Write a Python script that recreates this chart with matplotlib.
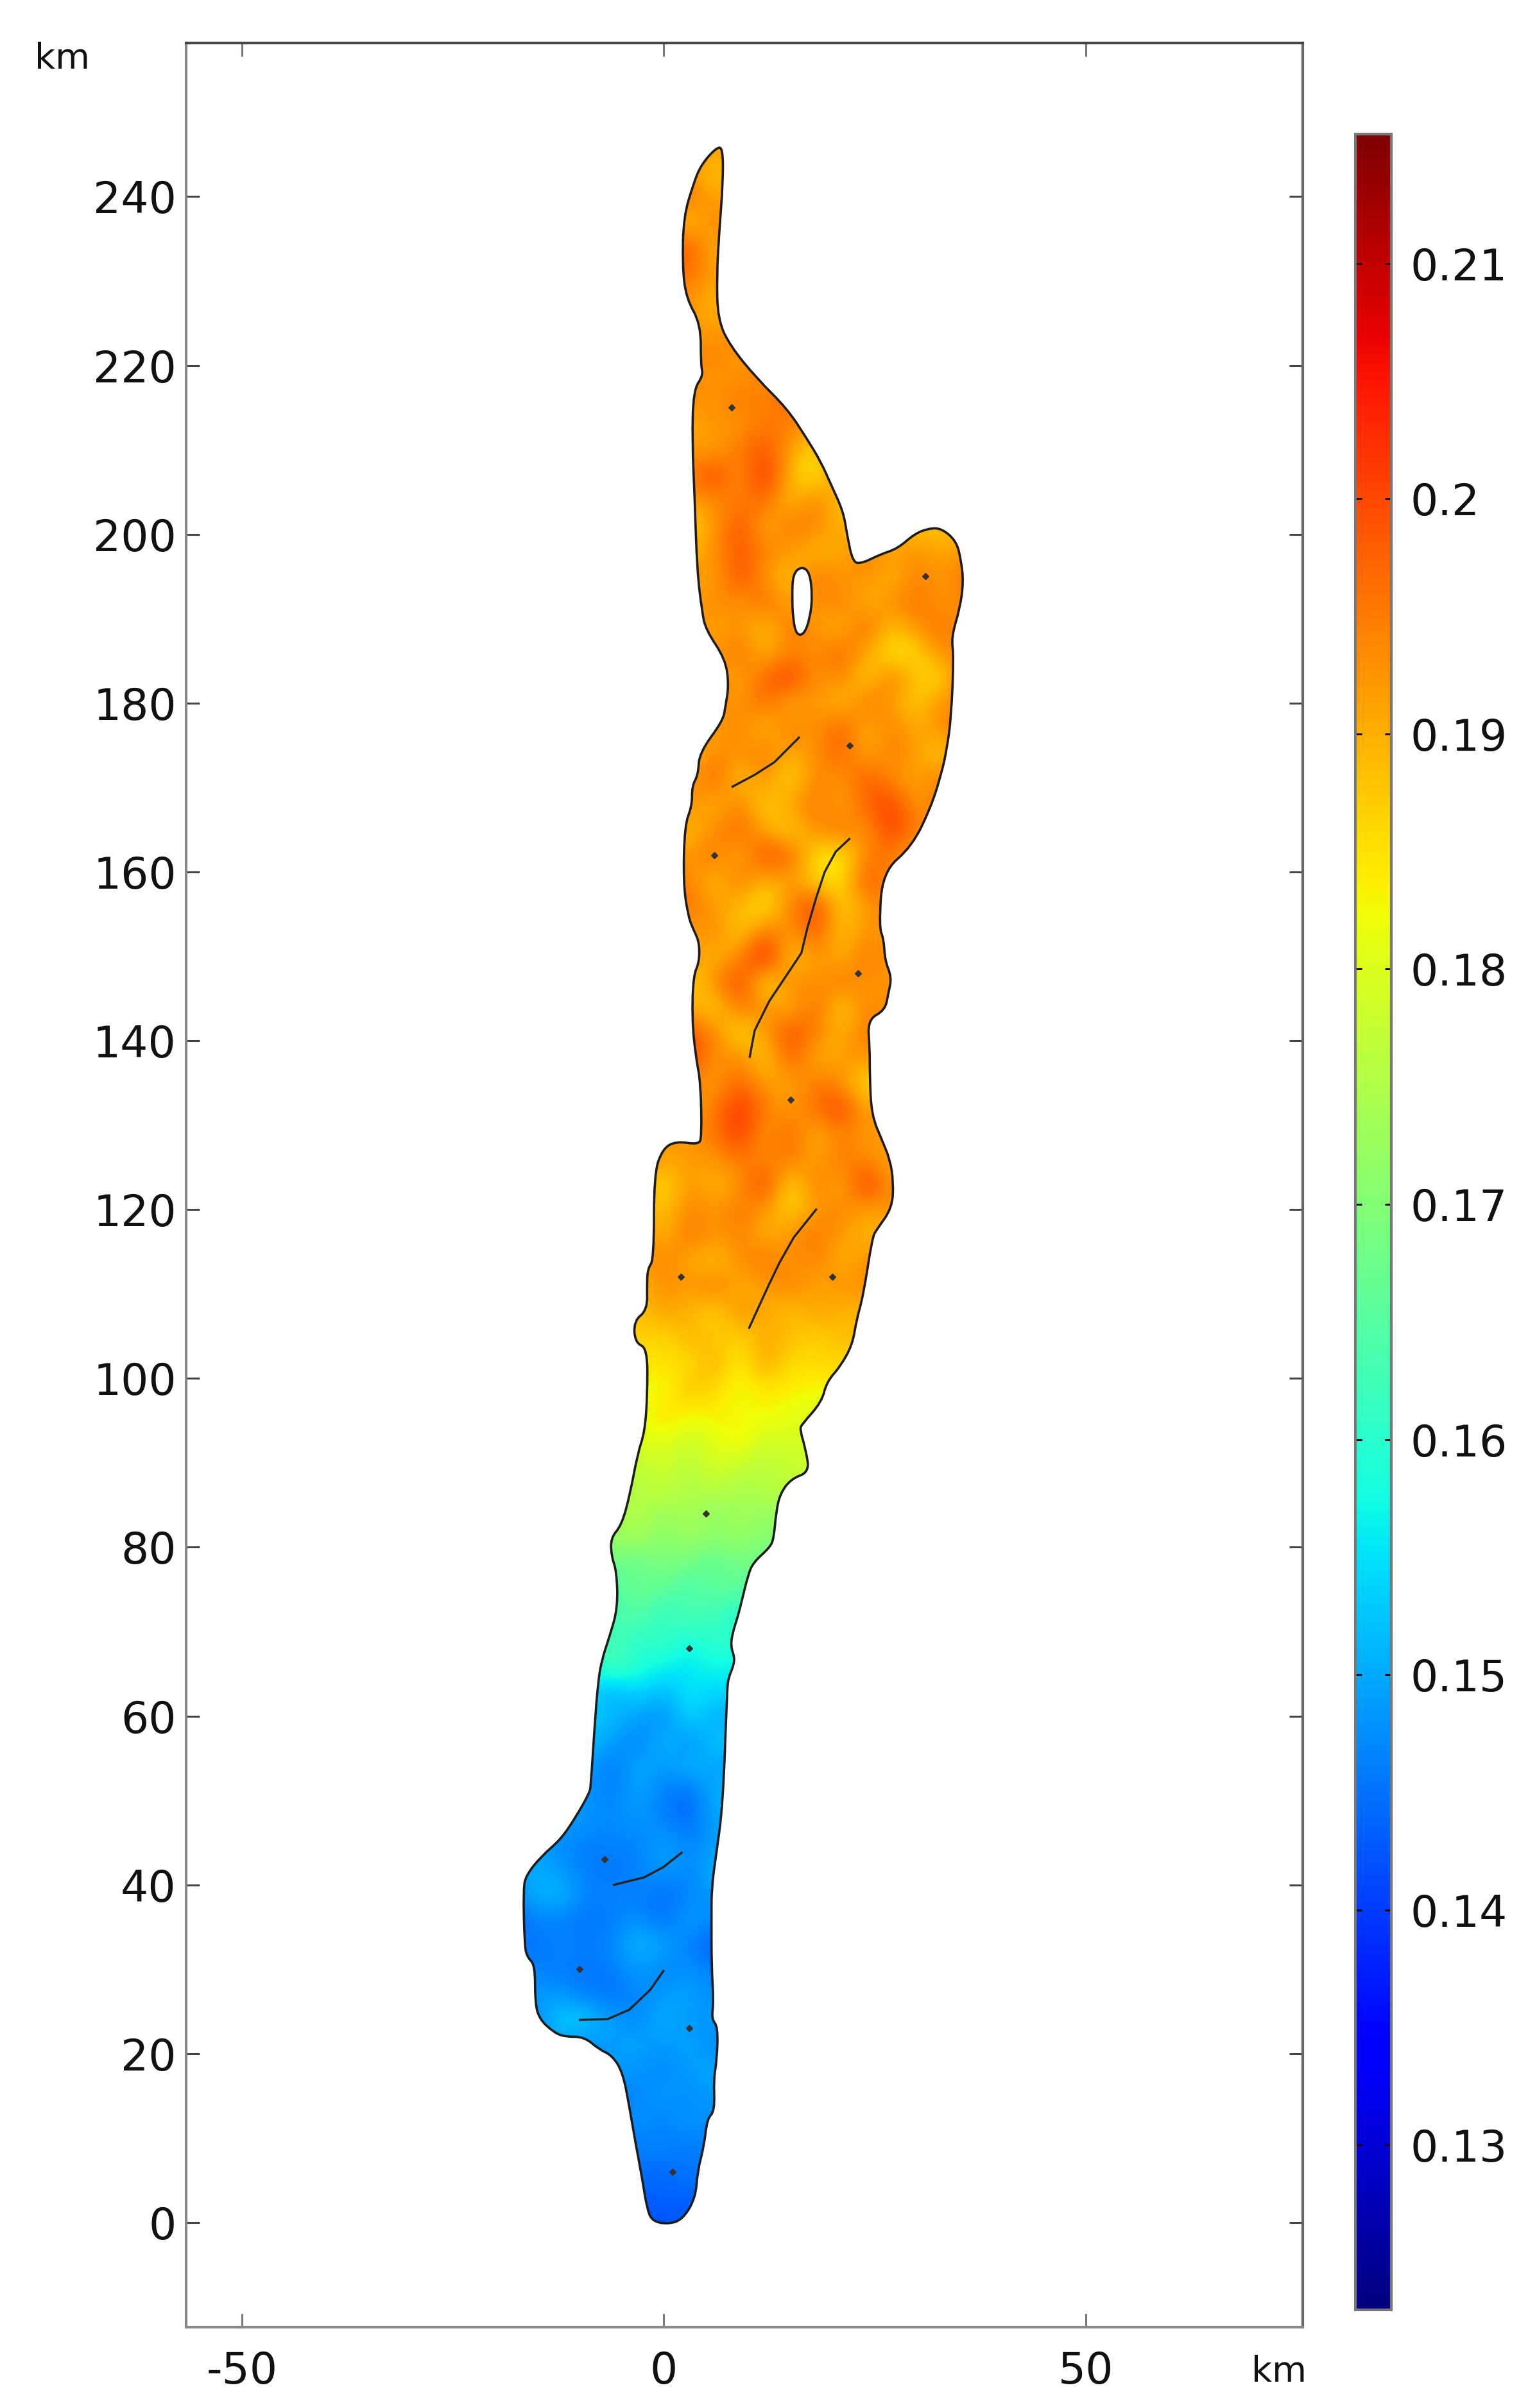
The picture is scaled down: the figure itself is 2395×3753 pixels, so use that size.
import matplotlib
matplotlib.use('Agg')
import matplotlib.pyplot as plt
import numpy as np
from matplotlib.path import Path
from matplotlib.patches import PathPatch

matplotlib.rcParams['axes.unicode_minus'] = False

W, H = 2395, 3753

# lake outline in km, going up the east shore and back down the west shore
lake_x = [0.45, 2.2, 3.75, 4.0, 4.76, 5.14, 6.03, 5.9, 6.28, 6.41, 5.65, 5.9, 5.65, 5.65, 5.65, 6.2, 7.0,
          7.5, 7.65, 8.2, 8.4, 7.94, 8.1, 8.8, 9.25, 9.98, 10.6, 12.6, 13.03, 13.3, 13.76, 15.07, 17.25,
          16.8, 16.1, 16.4, 18.7, 19.3, 20.9, 22.35, 22.8, 23.65,
          24.7, 25.2, 27.06, 27.2, 26.8, 25.9, 24.6, 24.4, 24.4, 24.15, 26.2, 26.6, 27.0, 26.2, 26.05,
          25.5, 25.9, 29.4, 31.7, 32.9, 33.5, 34.05,
          34.35, 34.06, 35.1, 35.5, 35.2, 34.65, 32.9, 31.4, 29.7, 27.7, 25.6, 23.6, 22.4, 21.7, 21.26,
          19.8, 18.6, 16.9, 14.6, 11.07, 7.87, 6.4, 6.27, 6.56, 7.0, 7.0,
          6.1, 4.38, 3.5, 2.34, 2.2, 2.63, 4.38, 4.38, 4.67, 3.5, 3.36, 3.65, 3.94, 4.52, 4.96, 7.3, 7.7, 7.3,
          7.0, 4.2, 4.07, 3.34, 3.34, 2.47, 2.3, 2.9, 3.49, 4.2, 4.2, 3.49, 3.34, 3.78, 4.36, 4.5, 4.07,
          1.45, -0.15, -1.17, -1.17, -1.9, -2.0,
          -1.95, -3.56, -3.4, -1.95, -1.95, -2.25, -3.1, -4.0, -5.0, -6.3, -6.2, -5.6, -5.45, -6.47, -7.34,
          -7.8, -8.2, -8.65, -8.8, -10.45, -12.2, -14.5, -16.28, -16.66, -16.5, -16.15, -15.26, -15.26, -14.76,
          -13.0, -11.7, -9.43, -7.66, -6.14, -4.87, -4.1, -3.35, -2.6, -1.95, -1.3]
lake_y = [-0.2, 0.32, 2.87, 6.1, 9.05, 12.3, 13.2, 17.0, 19.2, 23.2, 24.1, 26.1, 30.5, 36.0, 39.6, 43.6, 49.4,
          63.2, 64.5, 65.8, 66.9, 68.2, 69.7, 71.9, 73.7, 76.7, 78.2, 80.0, 81.1, 84.1, 86.3, 88.1, 88.9,
          91.6, 94.0, 94.6, 97.2, 99.6, 101.4, 104.0, 106.8, 109.9,
          116.7, 117.6, 120.2, 123.3, 125.9, 128.1, 131.2, 135.9, 139.0, 142.5, 143.6, 145.6, 147.5, 149.5, 152.1,
          153.4, 160.0, 163.0, 167.8, 171.7, 174.4, 178.3,
          185.6, 187.8, 191.3, 194.4, 197.0, 199.2, 200.7, 200.7, 200.05, 198.3, 197.6, 196.6, 196.6, 200.0, 202.7,
          205.9, 208.6, 211.4, 214.9, 218.4, 222.3, 225.4, 230.6, 235.8, 241.5, 245.9,
          245.7, 243.7, 241.5, 237.6, 231.9, 228.0, 224.9, 220.1, 218.8, 217.1, 211.0, 204.4, 195.7, 190.9, 188.7, 185.2, 182.1, 179.6,
          177.9, 174.1, 171.5, 170.2, 167.8, 165.6, 158.6, 154.7, 153.2, 151.7, 149.3, 147.7, 142.5, 138.1, 135.1, 128.5, 127.7,
          128.1, 127.2, 124.2, 114.1, 113.0, 111.2,
          108.1, 106.8, 104.2, 103.6, 98.1, 93.7, 91.1, 86.3, 82.6, 81.1, 78.9, 77.2, 72.8, 69.3, 66.7,
          64.0, 58.8, 51.8, 50.9, 48.0, 45.4, 43.4, 41.2, 39.6, 32.7, 31.4, 30.5, 26.1, 24.1,
          22.5, 22.0, 22.0, 20.5, 19.8, 17.8, 13.8, 9.4, 5.4, 1.4, 0.14]

island_x = [15.29, 16.3, 17.3, 17.6, 17.3, 16.6, 15.7, 15.3, 15.2]
island_y = [195.3, 196.2, 195.5, 192.6, 190.0, 188.1, 188.1, 190.0, 192.6]

fault_1 = ([8.14, 10.76, 13.1, 16.0], [170.1, 171.5, 173.0, 175.9])
fault_2 = ([21.97, 20.37, 19.06, 18.04, 17.02, 16.3, 14.84, 12.5, 10.76, 10.18],
           [163.9, 162.4, 160.0, 156.9, 153.4, 150.4, 148.2, 144.7, 141.2, 138.1])
fault_3 = ([18.04, 15.4, 13.7, 12.5, 11.3, 10.12], [120.0, 116.7, 113.7, 111.2, 108.6, 106.0])
fault_4 = ([2.1, -0.05, -2.3, -5.9], [43.8, 42.1, 40.9, 40.0])
fault_5 = ([-0.05, -1.58, -4.1, -6.64, -9.94], [29.8, 27.6, 25.2, 24.1, 24.0])

site_x = [8, 31, 22, 6, 23, 15, 2, 20, 5, 3, -7, -10, 3, 1]
site_y = [215, 195, 175, 162, 148, 133, 112, 112, 84, 68, 43, 30, 23, 6]

# field, thousandths. one row per 3 km of y, each row
# starts at row_start km in x with a 3 km step and covers the lake only
grid_x = list(range(-18, 39, 3))
grid_y = list(range(0, 249, 3))
row_start = [-3, -3, -3, -6, -6, -6, -9, -12, -15, -15, -18, -18, -18, -18, -18, -15, -12, -9, -9, -9, -9, -9, -9,
             -6, -6, -6, -6, -9, -6, -6, -3, -3, -3, -3, -3, -6, -3, -3, -3, -3, -3, -3, 3, 3, 3, 3, 3, 3, 3,
             3, 3, 3, 3, 3, 3, 3, 3, 3, 3, 6, 6, 6, 6, 3, 3, 3, 3, 3, 3, 3, 3, 3, 3, 3, 3, 3, 3, 3, 3, 3, 3, 3, 3]
row_values = [
    [142, 142, 143],
    [143, 144, 143, 144],
    [145, 144, 146, 145],
    [146, 146, 147, 145, 147],
    [147, 148, 146, 149, 147],
    [146, 147, 149, 147, 149],
    [148, 149, 148, 147, 149, 150],
    [148, 147, 149, 150, 148, 150, 147],
    [147, 155, 153, 149, 147, 151, 148, 149],
    [149, 148, 146, 145, 147, 149, 150, 147],
    [147, 146, 146, 145, 146, 149, 146, 148, 146],
    [146, 145, 147, 146, 147, 152, 150, 146, 143],
    [143, 147, 146, 145, 146, 148, 144, 150, 147],
    [147, 151, 152, 146, 147, 146, 145, 146, 149],
    [149, 151, 148, 146, 145, 147, 149, 147, 151],
    [148, 147, 146, 147, 146, 150, 146, 149],
    [150, 148, 147, 149, 146, 144, 150],
    [148, 146, 150, 146, 144, 151],
    [149, 145, 151, 148, 152, 149],
    [152, 149, 146, 152, 147, 153],
    [153, 152, 149, 147, 155, 150, 150],
    [154, 150, 155, 151, 156, 154, 155],
    [158, 164, 159, 157, 155, 158, 156],
    [163, 160, 162, 158, 161, 160],
    [163, 165, 160, 164, 162, 159],
    [164, 168, 166, 163, 167, 165],
    [168, 166, 170, 168, 165, 169, 167],
    [170, 172, 174, 170, 173, 171, 172, 170],
    [174, 176, 172, 175, 171, 174, 172],
    [176, 175, 178, 174, 177, 174, 176, 177],
    [177, 179, 176, 180, 178, 176, 178, 177],
    [180, 182, 178, 181, 184, 179, 180, 180],
    [181, 186, 183, 184, 182, 183, 181, 180],
    [183, 181, 188, 186, 182, 185, 184, 183, 184],
    [184, 186, 184, 189, 183, 190, 185, 186, 186],
    [186, 187, 185, 189, 187, 186, 189, 188, 186, 188],
    [187, 190, 188, 186, 191, 189, 187, 190, 188],
    [188, 191, 190, 193, 188, 190, 192, 189, 191],
    [190, 192, 189, 187, 191, 193, 190, 192, 188, 191],
    [191, 188, 193, 190, 192, 188, 191, 193, 190, 188],
    [189, 187, 192, 190, 193, 190, 186, 190, 192, 189, 191],
    [190, 184, 191, 188, 190, 197, 184, 193, 188, 198, 190],
    [190, 190, 193, 191, 193, 189, 193, 191, 189, 191],
    [190, 193, 197, 190, 194, 188, 192, 190, 191],
    [190, 192, 198, 192, 190, 193, 197, 189, 191],
    [191, 190, 194, 190, 189, 193, 191, 184, 188],
    [197, 190, 192, 186, 195, 188, 190, 191, 188],
    [195, 192, 184, 190, 196, 192, 188, 193, 190],
    [189, 186, 193, 191, 188, 194, 186, 192, 190],
    [186, 191, 197, 184, 192, 190, 193, 190, 191, 192],
    [190, 188, 191, 200, 186, 191, 188, 193, 190],
    [189, 192, 186, 193, 190, 195, 187, 191, 190],
    [193, 190, 188, 183, 192, 197, 186, 190, 192],
    [192, 187, 193, 188, 190, 186, 184, 196, 190],
    [190, 193, 188, 196, 194, 185, 183, 192, 193, 188, 192],
    [188, 191, 194, 189, 186, 191, 193, 190, 197, 192, 190],
    [191, 188, 192, 186, 190, 193, 189, 194, 197, 190, 192],
    [190, 194, 187, 191, 185, 192, 190, 195, 191, 189, 193, 190],
    [187, 192, 190, 193, 188, 191, 194, 189, 192, 190, 186, 191],
    [189, 192, 187, 193, 190, 195, 188, 192, 189, 191, 193],
    [192, 190, 194, 188, 191, 187, 193, 190, 186, 192, 190],
    [191, 189, 194, 197, 190, 192, 186, 193, 187, 184, 196],
    [190, 193, 188, 192, 191, 194, 189, 184, 185, 192, 190],
    [192, 189, 191, 187, 193, 190, 188, 194, 187, 191, 193, 190],
    [188, 192, 190, 194, 189, 191, 192, 188, 191, 193, 190, 192],
    [191, 189, 196, 190, 187, 193, 190, 191, 188, 192, 190, 193],
    [188, 191, 195, 192, 190, 188, 189, 192, 190, 191, 189, 191],
    [186, 190, 196, 188, 193, 191, 189, 187],
    [190, 191, 192, 194, 187, 193, 186, 189],
    [192, 197, 190, 198, 188, 183, 192, 190],
    [191, 189, 193, 195, 190, 184, 197, 190],
    [188, 191, 190, 193, 192, 190, 193],
    [192, 190, 193, 191, 194, 192, 190],
    [190, 191, 190, 192, 193],
    [191, 192, 190, 193],
    [190, 189, 191],
    [191, 188, 189],
    [193, 190, 189],
    [195, 188, 190],
    [187, 192, 190],
    [193, 189, 191],
    [190, 187, 188],
    [191, 190],
]

x_ticks = [-50, 0, 50]
y_ticks = list(range(0, 260, 20))
cbar_ticks = [0.13, 0.14, 0.15, 0.16, 0.17, 0.18, 0.19, 0.2, 0.21]
cbar_labels = ['0.13', '0.14', '0.15', '0.16', '0.17', '0.18', '0.19', '0.2', '0.21']


def frac_box(left, top, right, bottom):
    return [left / W, 1 - bottom / H, (right - left) / W, (bottom - top) / H]


def rounded_ring(xs, ys):
    # quadratic curves through the edge midpoints, the shore is smooth in the original
    p = np.column_stack([xs, ys])
    mids = (p + np.roll(p, -1, axis=0)) / 2
    verts = [mids[-1]]
    codes = [Path.MOVETO]
    for corner, mid in zip(p, mids):
        verts += [corner, mid]
        codes += [Path.CURVE3, Path.CURVE3]
    return verts, codes


# rows only cover the lake, hold the end values out to the grid edges
values = np.zeros((len(grid_y), len(grid_x)))
for i, (start, row) in enumerate(zip(row_start, row_values)):
    j0 = grid_x.index(start)
    values[i, :j0] = row[0]
    values[i, j0:j0 + len(row)] = row
    values[i, j0 + len(row):] = row[-1]
values = values / 1000.0
# the grid is too coarse for the blotches, put their contrast back in the orange part
north = values > 0.186
values[north] = 0.1925 + 1.4 * (values[north] - 0.1905)

fig = plt.figure(figsize=(W / 100, H / 100), dpi=100)
ax = fig.add_axes(frac_box(290, 67, 2030, 3627))

dx = (grid_x[1] - grid_x[0]) / 2
dy = (grid_y[1] - grid_y[0]) / 2
im = ax.imshow(values, origin='lower', cmap='jet', vmin=0.123, vmax=0.2155, aspect='auto',
               extent=[grid_x[0] - dx, grid_x[-1] + dx, grid_y[0] - dy, grid_y[-1] + dy],
               interpolation='bicubic')

outer_v, outer_c = rounded_ring(lake_x, lake_y)
inner_v, inner_c = rounded_ring(island_x, island_y)
shore = PathPatch(Path(outer_v + inner_v, outer_c + inner_c), facecolor='none', edgecolor='#1c1c1c',
                  lw=2.6, joinstyle='round', zorder=3)
ax.add_patch(shore)
im.set_clip_path(shore)

for fx, fy in [fault_1, fault_2, fault_3, fault_4, fault_5]:
    ax.plot(fx, fy, color='#222222', lw=2.4, zorder=4)
ax.plot(site_x, site_y, ls='none', marker='D', ms=5, color='#333333', zorder=4)

ax.set_xlim(-56.6, 75.7)
ax.set_ylim(-12.4, 258.2)
ax.set_xticks(x_ticks, [str(v) for v in x_ticks])
ax.set_yticks(y_ticks, [str(v) for v in y_ticks])
ax.tick_params(axis='x', direction='in', length=15, width=2.2, color='#777777', top=True, pad=26, labelsize=49, labelcolor='#111111')
ax.tick_params(axis='y', direction='in', length=15, width=2.2, color='#444444', right=True, pad=11, labelsize=49, labelcolor='#111111')
for side, col in [('left', '#888888'), ('bottom', '#888888'), ('right', '#666666'), ('top', '#444444')]:
    ax.spines[side].set_color(col)
    ax.spines[side].set_linewidth(3.0)

cax = fig.add_axes(frac_box(2112, 209, 2168, 3600))
cbar = fig.colorbar(im, cax=cax, ticks=cbar_ticks)
cbar.set_ticklabels(cbar_labels)
cax.tick_params(direction='in', length=7, width=2.2, color='#220000', left=True, right=True, pad=21, labelsize=49, labelcolor='#111111')
cbar.outline.set_edgecolor('#777777')
cbar.outline.set_linewidth(3.0)

fig.text(97 / W, 1 - 107 / H, 'km', fontsize=40, ha='center', va='baseline', color='#111111')
fig.text(1993 / W, 1 - 3712 / H, 'km', fontsize=40, ha='center', va='baseline', color='#111111')

fig.savefig('out.png', dpi=100)
